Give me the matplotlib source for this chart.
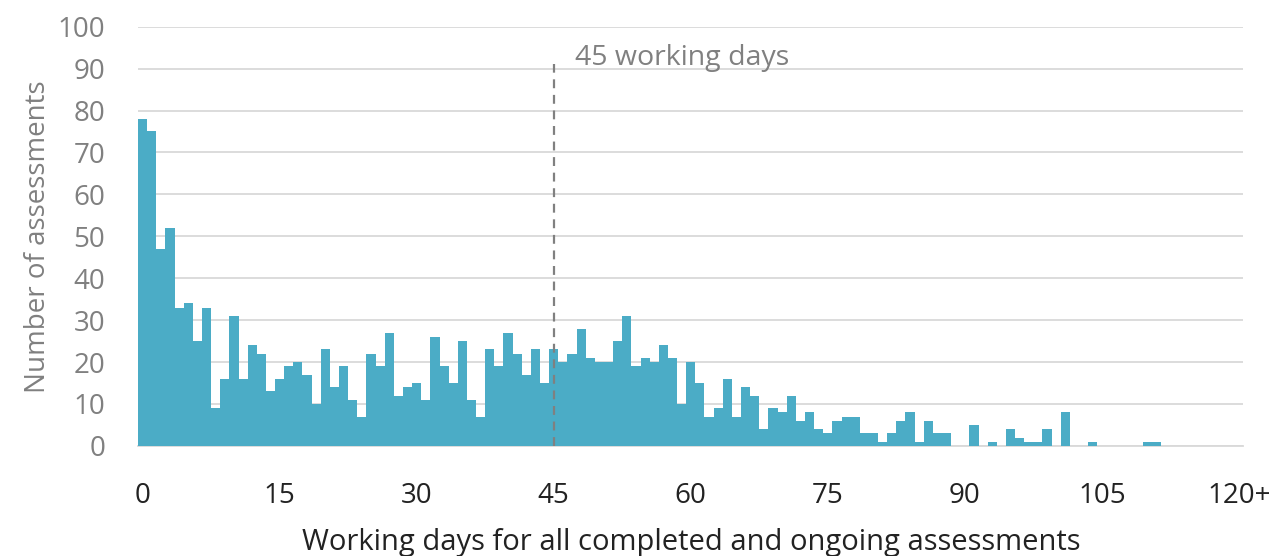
import numpy as np
import matplotlib
matplotlib.use('Agg')
import matplotlib.pyplot as plt

plt.rcParams['font.family'] = ['Open Sans', 'DejaVu Sans']

# number of assessments per working day (0 .. 120+)
counts = [78, 75, 47, 52, 33, 34, 25, 33, 9, 16,
          31, 16, 24, 22, 13, 16, 19, 20, 17, 10,
          23, 14, 19, 11, 7, 22, 19, 27, 12, 14,
          15, 11, 26, 19, 15, 25, 11, 7, 23, 19,
          27, 22, 17, 23, 15, 23, 20, 22, 28, 21,
          20, 20, 25, 31, 19, 21, 20, 24, 21, 10,
          20, 15, 7, 9, 16, 7, 14, 12, 4, 9,
          8, 12, 6, 8, 4, 3, 6, 7, 7, 3,
          3, 1, 3, 6, 8, 1, 6, 3, 3, 0,
          0, 5, 0, 1, 0, 4, 2, 1, 1, 4,
          0, 8, 0, 0, 1, 0, 0, 0, 0, 0,
          1, 1, 0, 0, 0, 0, 0, 0, 0, 0,
          0]
days = np.arange(len(counts))

tick_pos = [0, 15, 30, 45, 60, 75, 90, 105, 120]
tick_labels = ['0', '15', '30', '45', '60', '75', '90', '105', '120+']
threshold = 45

fig = plt.figure(figsize=(12.78, 5.56), dpi=100)
ax = fig.add_axes([0.108, 0.198, 0.865, 0.754])

ax.bar(days, counts, width=1.0, color='#4BACC6', zorder=3)

ax.set_xlim(-0.5, 120.5)
ax.set_ylim(0, 100)
ax.set_yticks(np.arange(0, 101, 10))
ax.set_xticks(tick_pos)
ax.set_xticklabels(tick_labels)

ax.grid(axis='y', color='#d9d9d9', linewidth=1.3, zorder=0)
for s in ['top', 'right', 'left']:
    ax.spines[s].set_visible(False)
ax.spines['bottom'].set_color('#d9d9d9')
ax.spines['bottom'].set_linewidth(1.3)
ax.tick_params(axis='both', length=0)
ax.tick_params(axis='y', labelsize=20, labelcolor='#808080', pad=23.5)
ax.tick_params(axis='x', labelsize=20, labelcolor='#222222', pad=26)

ax.vlines(threshold, 0, 91, colors='#808080', linestyles=(0, (4, 3)), linewidth=1.6, zorder=4)
ax.text(47.3, 92.5, '45 working days', fontsize=20.5, color='#808080', va='center', ha='left')

ax.set_ylabel('Number of assessments', fontsize=20, color='#808080', labelpad=4)
ax.set_xlabel('Working days for all completed and ongoing assessments', fontsize=21,
              color='#222222', labelpad=13)

fig.savefig('out.png', dpi=100, facecolor='white')
